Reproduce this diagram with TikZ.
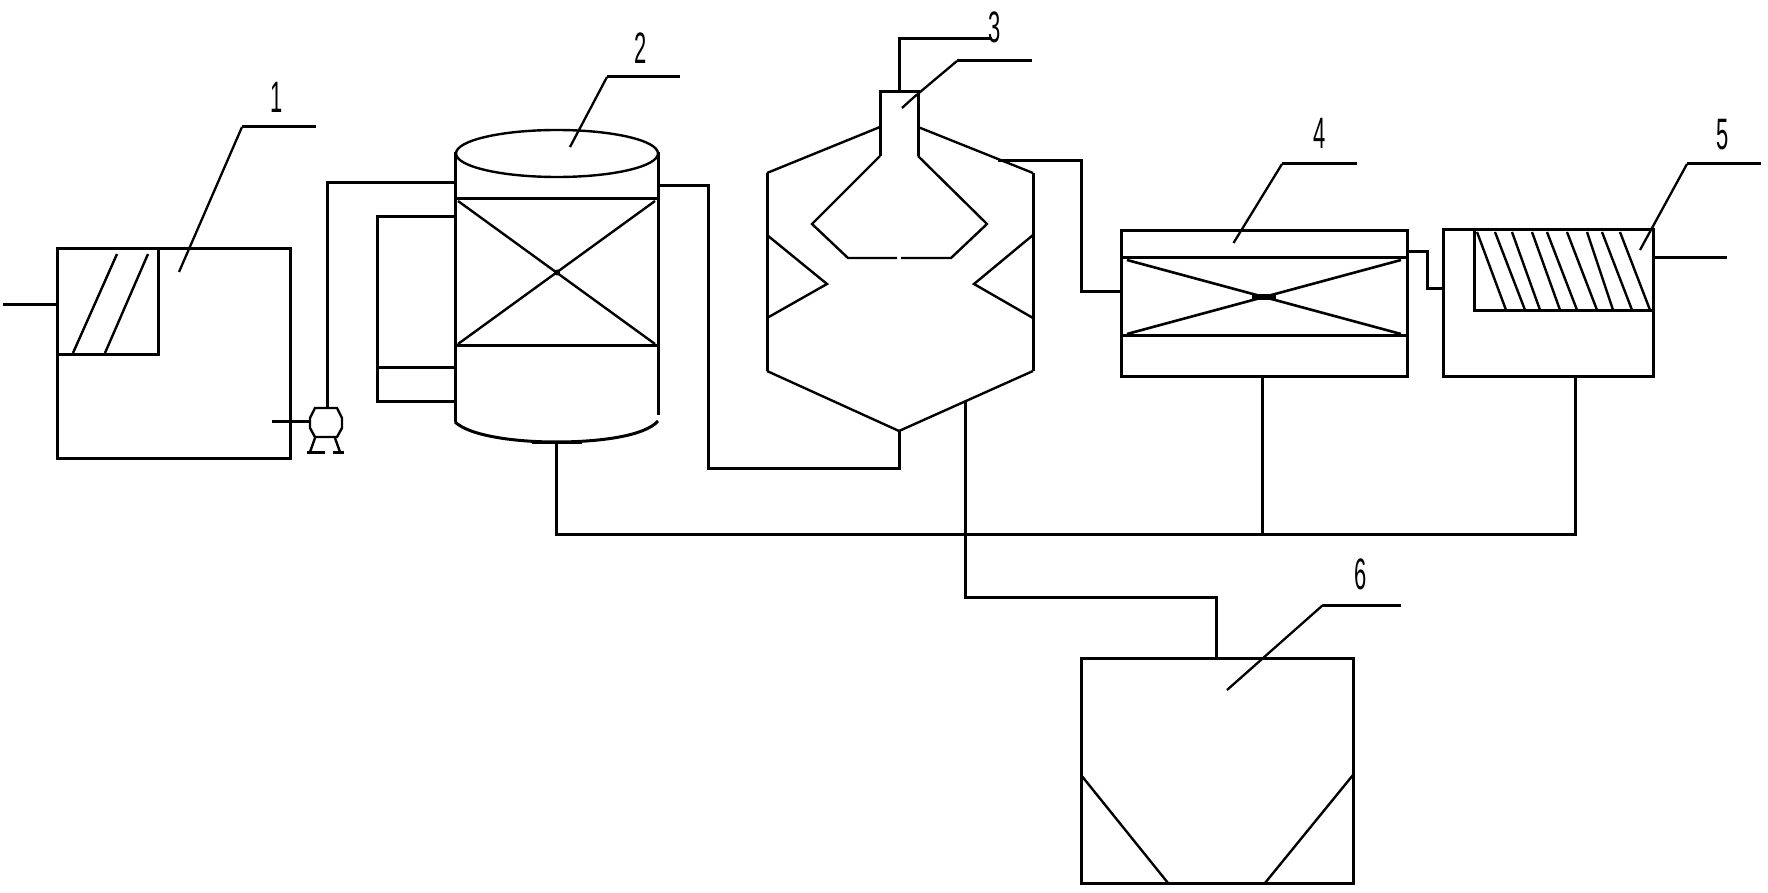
\documentclass[tikz,border=0pt]{standalone}
\usepackage{fontspec}
\setmainfont{Liberation Sans}
\tikzset{
  pipe/.style={line width=1.5pt,line join=miter},
  fine/.style={line width=1.2pt,line join=miter},
  leader/.style={line width=1.15pt},
  tag/.style={inner sep=0pt,font=\fontsize{22}{22}\selectfont}
}
\newcommand{\digit}[1]{\scalebox{.5}[1]{#1}}
\begin{document}
\begin{tikzpicture}[x=0.5pt,y=-0.5pt]
\useasboundingbox (0,0) rectangle (1768,893);
% ---------- tank 1
\draw[pipe] (57,249) rectangle (290,458);
\draw[pipe] (158,249) -- (158,355) -- (57,355);
\draw[fine] (73,353) -- (117,254);
\draw[fine] (105,353) -- (148,254);
\coordinate (in1) at (3,305);
\coordinate (tank1w) at (57,305);
\draw[pipe] (in1) -- (tank1w);
% pump
\draw[fine] (315,408) -- (337,408) -- (342,418) -- (342,428) -- (337,437) -- (315,437) -- (310,428) -- (310,418) -- cycle;
\draw[fine] (315,438) -- (310,452);
\draw[fine] (335,438) -- (340,452);
\draw[pipe] (307,452) -- (325,452);
\draw[pipe] (333,452) -- (344,452);
\coordinate (tank1out) at (272,421);
\coordinate (pumpw) at (310,421);
\coordinate (pumpn) at (327,408);
\coordinate (col2w) at (455,183);
\draw[pipe] (tank1out) -- (pumpw);
\draw[pipe] (pumpn) |- (col2w);
% ---------- column 2
\draw[fine] (557,153.5) ellipse [x radius=101, y radius=23.5];
\draw[pipe] (455,152) -- (455,422);
\draw[pipe] (658,152) -- (658,415);
\draw[pipe] (455,422) .. controls (470,436) and (515,442) .. (556,442) .. controls (600,442) and (645,436) .. (658,421);
\draw[pipe] (532,442.5) -- (582,442.5);
\draw[pipe] (455,199) -- (658,199);
\draw[pipe] (455,346) -- (658,346);
\draw[fine] (458,201) -- (655,344);
\draw[fine] (655,201) -- (458,344);
\fill (557,272.5) circle (3);
\draw[pipe] (455,217) -- (377,217) -- (377,402) -- (455,402);
\draw[pipe] (377,368) -- (455,368);
% ---------- reactor 3
\draw[fine] (880,127) -- (767,173);
\draw[fine] (918,127) -- (1033,173);
\draw[pipe] (767,173) -- (767,371);
\draw[pipe] (1033,173) -- (1033,371);
\draw[fine] (767,371) -- (899,431) -- (1033,371);
\draw[pipe] (880,156) -- (880,92) -- (918,92) -- (918,156);
\draw[fine] (880,156) -- (812,224) -- (848,258) -- (897,258);
\draw[fine] (901,258) -- (951,258) -- (987,224) -- (918,156);
\draw[fine] (767,235) -- (827,284) -- (767,318);
\draw[fine] (1033,235) -- (974,284) -- (1033,318);
\coordinate (r3top) at (899,92);
\coordinate (r3topend) at (992,39);
\draw[pipe] (r3top) |- (r3topend);
\coordinate (r3tip) at (899,431);
\coordinate (col2e) at (658,186);
\draw[pipe] (col2e) -- (708,186) -- (708,468) -- (899,468) -- (r3tip);
\coordinate (r3e) at (998,161);
\coordinate (box4w) at (1121,292);
\draw[pipe] (r3e) -- (1081,161) |- (box4w);
% ---------- filter 4
\draw[pipe] (1121,231) rectangle (1407,377);
\draw[pipe] (1121,258) -- (1407,258);
\draw[pipe] (1121,336) -- (1407,336);
\draw[line width=1.3pt] (1127,260) -- (1401,334);
\draw[line width=1.3pt] (1401,260) -- (1127,334);
\fill (1252,294) rectangle (1276,300);
\coordinate (box4e) at (1407,252);
\coordinate (box5w) at (1443,289);
\draw[pipe] (box4e) -- (1427,252) |- (box5w);
% ---------- tank 5
\draw[pipe] (1443,230) rectangle (1653,377);
\draw[pipe] (1474,230) -- (1474,311) -- (1653,311);
\foreach \a/\b in {1477/1506,1495/1525,1512/1540,1532/1560,1547/1577,1567/1597,1587/1613,1602/1632,1620/1650}
  \draw[fine] (\a,232) -- (\b,310);
\coordinate (box5e) at (1653,258);
\coordinate (out5) at (1727,258);
\draw[pipe] (box5e) -- (out5);
% ---------- drains
\coordinate (col2s) at (556,442);
\coordinate (drain5) at (1575,377);
\coordinate (drain4) at (1262,377);
\draw[pipe] (col2s) -- (556,534) -- (1575,534) -- (drain5);
\draw[pipe] (drain4) -- (1262,534);
% ---------- settling tank 6
\draw[pipe] (1081,658) rectangle (1353,883);
\draw[fine] (1081,775) -- (1168,883);
\draw[fine] (1353,775) -- (1265,883);
\coordinate (r3s) at (965,402);
\coordinate (box6n) at (1216,658);
\draw[pipe] (r3s) -- (965,597) -- (1216,597) -- (box6n);
% ---------- leaders and labels
\draw[leader] (179,272) -- (242,127); \draw[pipe] (242,127) -- (316,127);
\draw[leader] (570,147) -- (607,77);  \draw[pipe] (607,77) -- (680,77);
\draw[leader] (902,108) -- (913,98) -- (957,61); \draw[pipe] (957,61) -- (1032,61);
\draw[leader] (1233.5,243) -- (1282,164); \draw[pipe] (1282,164) -- (1357,164);
\draw[leader] (1640,250) -- (1687,164); \draw[pipe] (1687,164) -- (1761,164);
\draw[leader] (1227,690) -- (1323,605); \draw[pipe] (1323,605) -- (1401,605);
\node[tag] (lab1) at (277,97)   {\digit{1}};
\node[tag] (lab2) at (641,48)   {\digit{2}};
\node[tag] (lab3) at (995,27)   {\digit{3}};
\node[tag] (lab4) at (1320,133) {\digit{4}};
\node[tag] (lab5) at (1723,135) {\digit{5}};
\node[tag] (lab6) at (1361,574) {\digit{6}};
\end{tikzpicture}
\end{document}
